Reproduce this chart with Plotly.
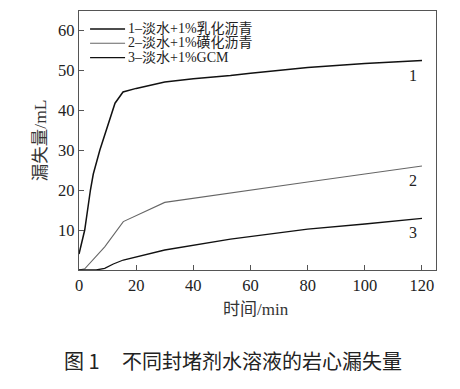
import plotly.graph_objects as go

series_names = ["1–淡水+1%乳化沥青", "2–淡水+1%磺化沥青", "3–淡水+1%GCM"]
curve_labels = ["1", "2", "3"]

t1 = [0, 2, 4, 5, 7.3, 10, 12.6, 15.4, 20, 30, 40, 53, 60, 80, 100, 120]
v1 = [4, 10, 20, 24, 30, 36, 41.7, 44.5, 45.4, 47, 47.8, 48.6, 49.2, 50.6, 51.6, 52.4]

t2 = [0, 2, 9, 15.5, 30, 53, 60, 80, 100, 120]
v2 = [0, 0.3, 5.8, 12.1, 16.9, 19.3, 20, 22, 24, 26]

t3 = [0, 6, 9, 12, 15.5, 30, 53, 60, 80, 100, 120]
v3 = [0, 0, 0.4, 1.5, 2.5, 5, 7.7, 8.3, 10.2, 11.5, 12.9]

x_ticks = [0, 20, 40, 60, 80, 100, 120]
y_ticks = [10, 20, 30, 40, 50, 60]

serif = "Liberation Serif, Noto Sans CJK SC, serif"
colors = ["#111111", "#666666", "#111111"]
widths = [1.5, 1.1, 1.3]

fig = go.Figure()
for name, t, v, c, w in zip(series_names, [t1, t2, t3], [v1, v2, v3], colors, widths):
    fig.add_trace(go.Scatter(x=t, y=v, mode="lines", name=name,
                             line=dict(color=c, width=w), showlegend=False))

# custom legend: sample lines + one multi-line text block (tight line spacing)
leg_y = [0.9305, 0.8753, 0.8197]
for c, w, yy in zip(colors, widths, leg_y):
    fig.add_shape(type="line", xref="paper", yref="paper",
                  x0=0.031, x1=0.129, y0=yy, y1=yy, line=dict(color=c, width=w))
legend_text = "<br>".join('<span style="font-size:14px">%s</span>' % n for n in series_names)
fig.add_annotation(xref="paper", yref="paper", x=0.133, y=0.8753,
                   text=legend_text, align="left",
                   showarrow=False, xanchor="left", yanchor="middle",
                   font=dict(family=serif, size=11, color="#222"))

# curve labels
for lab, yy in zip(curve_labels, [48.75, 22.5, 9.5]):
    fig.add_annotation(x=117, y=yy, text=lab, showarrow=False,
                       font=dict(family=serif, size=16, color="#222"))

# axis titles & caption
fig.add_annotation(xref="paper", yref="paper", x=-0.11, y=0.5, text="漏失量/mL",
                   textangle=-90, showarrow=False, xanchor="center", yanchor="middle",
                   font=dict(family=serif, size=17.5, color="#333"))
fig.add_annotation(xref="paper", yref="paper", x=0.497, y=-0.151, text="时间/min",
                   showarrow=False, xanchor="center", yanchor="middle",
                   font=dict(family=serif, size=17, color="#333"))
fig.add_annotation(xref="paper", yref="paper", x=0.43, y=-0.348,
                   text="图 1&nbsp;&nbsp;&nbsp;&nbsp;&nbsp;不同封堵剂水溶液的岩心漏失量",
                   showarrow=False, xanchor="center", yanchor="middle",
                   font=dict(family="Noto Sans CJK SC", size=20, color="#222"))

axis_common = dict(showline=True, linecolor="#555", linewidth=1.2, mirror=True,
                   ticks="inside", ticklen=5, tickcolor="#555", showgrid=False,
                   zeroline=False, tickfont=dict(family=serif, size=16.5, color="#222"))

fig.update_xaxes(range=[0, 124.9], tickvals=x_ticks, **axis_common)
fig.update_yaxes(range=[0, 64.75], tickvals=y_ticks, **axis_common)

# page body has an 8px margin: offset margins so the plot lands where the reference's does
fig.update_layout(width=460, height=389, margin=dict(l=71, r=32, t=3, b=127),
                  plot_bgcolor="white", paper_bgcolor="white")

fig.write_html("out.html")
